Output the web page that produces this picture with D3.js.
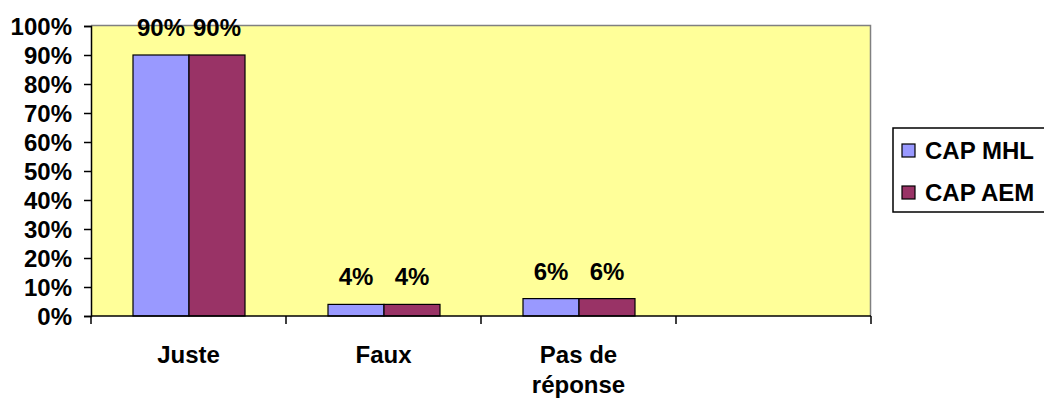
<html>
<head>
  <style>
    body { margin: 0; background: #ffffff; font-family: "Liberation Sans", Arial, sans-serif; }
    text { font-family: "Liberation Sans", Arial, sans-serif; font-weight: bold; fill: #000; }
  </style>
</head>
<body>
  <div id="chart"></div>
  <script src="https://d3js.org/d3.v7.min.js"></script>
  <script>
    var categories = ["Juste", "Faux", "Pas de réponse", ""];
    var seriesNames = ["CAP MHL", "CAP AEM"];
    var mhl = [90, 4, 6];
    var aem = [90, 4, 6];
    var yTicks = [0, 10, 20, 30, 40, 50, 60, 70, 80, 90, 100];
    var colors = ["#9999ff", "#993366"];

    var width = 1044, height = 401;
    var plotLeft = 91, plotRight = 871, plotTop = 26, plotBottom = 316;

    var svg = d3.select("#chart").append("svg")
        .attr("width", width)
        .attr("height", height);

    var x = d3.scaleBand().domain(categories).range([plotLeft, plotRight]);
    var x1 = d3.scaleBand().domain(seriesNames).range([42, 154]);
    var y = d3.scaleLinear().domain([0, 100]).range([plotBottom, plotTop]);

    // plot area
    svg.append("rect")
        .attr("x", plotLeft).attr("y", y(100) - 1)
        .attr("width", plotRight - plotLeft).attr("height", plotBottom - y(100) + 1)
        .attr("fill", "#ffff99");
    svg.append("path")
        .attr("d", "M" + plotLeft + "," + (y(100) - 0.5) + "H" + (plotRight - 0.5) + "V" + plotBottom)
        .attr("fill", "none").attr("stroke", "#808080").attr("stroke-width", 1.5);

    // bars
    var rows = categories.slice(0, 3).map(function (c, i) {
      return { cat: c, vals: [mhl[i], aem[i]] };
    });
    var g = svg.selectAll("g.cat").data(rows).enter().append("g")
        .attr("transform", function (d) { return "translate(" + x(d.cat) + ",0)"; });
    g.selectAll("rect").data(function (d) {
      return d.vals.map(function (v, j) { return { s: seriesNames[j], v: v, j: j }; });
    }).enter().append("rect")
        .attr("x", function (d) { return x1(d.s); })
        .attr("y", function (d) { return y(d.v); })
        .attr("width", x1.bandwidth())
        .attr("height", function (d) { return plotBottom - y(d.v); })
        .attr("fill", function (d) { return colors[d.j]; })
        .attr("stroke", "#000").attr("stroke-width", 1.2);
    g.selectAll("text.val").data(function (d) {
      return d.vals.map(function (v, j) { return { s: seriesNames[j], v: v }; });
    }).enter().append("text")
        .attr("class", "val")
        .attr("x", function (d) { return x1(d.s) + x1.bandwidth() / 2; })
        .attr("y", function (d) { return y(d.v) - 19; })
        .attr("text-anchor", "middle")
        .style("font-size", "24px")
        .text(function (d) { return d.v + "%"; });

    // y axis
    var yAxis = svg.append("g")
        .attr("transform", "translate(" + plotLeft + ",0)")
        .call(d3.axisLeft(y).tickValues(yTicks).tickSize(7).tickPadding(12)
          .tickFormat(function (d) { return d + "%"; }));
    yAxis.select(".domain").attr("stroke", "#000").attr("stroke-width", 1.5);
    yAxis.selectAll("line").attr("stroke", "#000").attr("stroke-width", 1.5);
    yAxis.selectAll("text").style("font-size", "24px").attr("dy", "0.36em");

    // x axis
    var xAxis = svg.append("g")
        .attr("transform", "translate(0," + plotBottom + ")");
    xAxis.append("line").attr("x1", plotLeft).attr("x2", plotRight)
        .attr("stroke", "#000").attr("stroke-width", 1.5);
    xAxis.selectAll("line.tick").data(categories.concat(["end"])).enter().append("line")
        .attr("x1", function (d, i) { return i < categories.length ? x(d) : plotRight; })
        .attr("x2", function (d, i) { return i < categories.length ? x(d) : plotRight; })
        .attr("y1", 0).attr("y2", 8)
        .attr("stroke", "#000").attr("stroke-width", 1.5);
    var labels = xAxis.selectAll("text.cat").data(categories).enter().append("text")
        .attr("class", "cat")
        .attr("text-anchor", "middle")
        .style("font-size", "24px")
        .attr("y", 47);
    labels.each(function (d) {
      var t = d3.select(this);
      var lines = d === "Pas de réponse" ? ["Pas de", "réponse"] : [d];
      lines.forEach(function (l, i) {
        t.append("tspan").attr("x", x(d) + x.bandwidth() / 2).attr("dy", i ? 30 : 0).text(l);
      });
    });

    // legend
    var leg = svg.append("g").attr("transform", "translate(893,128)");
    leg.append("rect").attr("x", 0).attr("y", 0).attr("width", 160).attr("height", 84)
        .attr("fill", "#fff").attr("stroke", "#000").attr("stroke-width", 1.5);
    seriesNames.forEach(function (s, i) {
      leg.append("rect").attr("x", 9).attr("y", 16 + i * 42).attr("width", 13).attr("height", 13)
          .attr("fill", colors[i]).attr("stroke", "#000").attr("stroke-width", 1.2);
      leg.append("text").attr("x", 32).attr("y", 31 + i * 42)
          .style("font-size", "24px").text(s);
    });
  </script>
</body>
</html>
